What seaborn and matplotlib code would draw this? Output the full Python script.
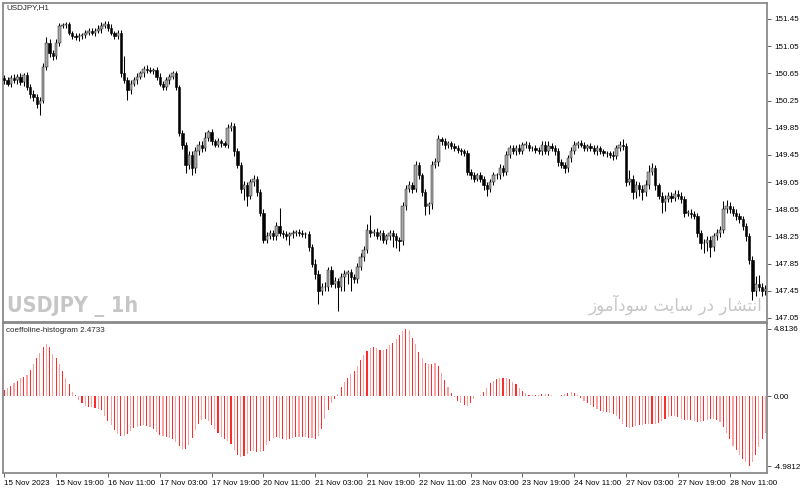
"""USDJPY H1 candles with the coeffoline-histogram sub-window (MT4 style)."""

import matplotlib
import numpy as np
import pandas as pd

matplotlib.use("Agg")
import matplotlib.pyplot as plt  # noqa: E402
import seaborn as sns  # noqa: E402

SYMBOL = "USDJPY,H1"
IND_NAME = "coeffoline-histogram 2.4733"
WATERMARK = "USDJPY _ 1h"
# "انتشار در سایت سودآموز" as Arabic presentation forms (logical order);
# matplotlib has no shaping, so the joined forms are given directly
CREDIT = ("\uFE8D\uFEE7\uFE98\uFEB8\uFE8E\uFEAD \uFEA9\uFEAD "
          "\uFEB3\uFE8E\uFBFE\uFE96 \uFEB3\uFEEE\uFEA9\uFE81\uFEE3\uFEEE\uFEAF")

opens = [
    150.58, 150.55, 150.50, 150.58, 150.55, 150.60, 150.52, 150.62, 150.45, 150.35,
    150.30, 150.20, 150.25, 150.75, 151.10, 150.95, 150.90, 151.10, 151.35, 151.36,
    151.37, 151.25, 151.20, 151.18, 151.20, 151.22, 151.25, 151.27, 151.25, 151.28,
    151.30, 151.35, 151.38, 151.32, 151.25, 151.20, 151.25, 150.65, 150.55, 150.40,
    150.50, 150.55, 150.60, 150.65, 150.72, 150.70, 150.68, 150.70, 150.60, 150.50,
    150.45, 150.55, 150.60, 150.65, 150.45, 149.77, 149.60, 149.30, 149.45, 149.25,
    149.50, 149.60, 149.55, 149.70, 149.78, 149.65, 149.60, 149.65, 149.62, 149.60,
    149.85, 149.88, 149.50, 149.30, 148.95, 149.00, 148.85, 149.05, 149.10, 148.90,
    148.60, 148.20, 148.25, 148.30, 148.25, 148.40, 148.30, 148.28, 148.25, 148.28,
    148.30, 148.32, 148.30, 148.28, 148.28, 148.10, 147.85, 147.70, 147.45, 147.50,
    147.50, 147.75, 147.55, 147.60, 147.50, 147.65, 147.70, 147.72, 147.65, 147.62,
    147.80, 147.95, 148.05, 148.35, 148.30, 148.32, 148.25, 148.30, 148.20, 148.25,
    148.30, 148.25, 148.20, 148.18, 148.70, 148.95, 149.00, 148.95, 149.30, 149.15,
    148.90, 148.70, 148.72, 149.30, 149.35, 149.68, 149.65, 149.60, 149.62, 149.58,
    149.55, 149.52, 149.50, 149.47, 149.20, 149.15, 149.10, 149.15, 149.10, 149.00,
    148.95, 149.05, 149.15, 149.15, 149.25, 149.20, 149.45, 149.55, 149.50, 149.55,
    149.50, 149.60, 149.60, 149.55, 149.55, 149.52, 149.50, 149.60, 149.50, 149.58,
    149.55, 149.50, 149.35, 149.30, 149.25, 149.40, 149.50, 149.60, 149.62, 149.60,
    149.55, 149.58, 149.55, 149.50, 149.55, 149.50, 149.48, 149.47, 149.45, 149.43,
    149.55, 149.60, 149.58, 149.05, 149.10, 148.90, 149.00, 148.95, 148.90, 149.00,
    149.20, 149.25, 149.00, 148.85, 148.75, 148.80, 148.85, 148.82, 148.88, 148.85,
    148.80, 148.60, 148.60, 148.58, 148.55, 148.30, 148.15, 148.15, 148.20, 148.10,
    148.25, 148.30, 148.35, 148.65, 148.70, 148.65, 148.60, 148.55, 148.50, 148.40,
    148.25, 147.90, 147.45, 147.55, 147.50, 147.45,
]
closes = [
    150.55, 150.50, 150.58, 150.55, 150.60, 150.52, 150.62, 150.45, 150.35, 150.30,
    150.20, 150.25, 150.75, 151.10, 150.95, 150.90, 151.10, 151.35, 151.36, 151.37,
    151.25, 151.20, 151.18, 151.20, 151.22, 151.25, 151.27, 151.25, 151.28, 151.30,
    151.35, 151.38, 151.32, 151.25, 151.20, 151.25, 150.65, 150.55, 150.40, 150.50,
    150.55, 150.60, 150.65, 150.72, 150.70, 150.68, 150.70, 150.60, 150.50, 150.45,
    150.55, 150.60, 150.65, 150.45, 149.77, 149.60, 149.30, 149.45, 149.25, 149.50,
    149.60, 149.55, 149.70, 149.78, 149.65, 149.60, 149.65, 149.62, 149.60, 149.85,
    149.88, 149.50, 149.30, 148.95, 149.00, 148.85, 149.05, 149.10, 148.90, 148.60,
    148.20, 148.25, 148.30, 148.25, 148.40, 148.30, 148.28, 148.25, 148.28, 148.30,
    148.32, 148.30, 148.28, 148.28, 148.10, 147.85, 147.70, 147.45, 147.50, 147.50,
    147.75, 147.55, 147.60, 147.50, 147.65, 147.70, 147.72, 147.65, 147.62, 147.80,
    147.95, 148.05, 148.35, 148.30, 148.32, 148.25, 148.30, 148.20, 148.25, 148.30,
    148.25, 148.20, 148.18, 148.70, 148.95, 149.00, 148.95, 149.30, 149.15, 148.90,
    148.70, 148.72, 149.30, 149.35, 149.68, 149.65, 149.60, 149.62, 149.58, 149.55,
    149.52, 149.50, 149.47, 149.20, 149.15, 149.10, 149.15, 149.10, 149.00, 148.95,
    149.05, 149.15, 149.15, 149.25, 149.20, 149.45, 149.55, 149.50, 149.55, 149.50,
    149.60, 149.60, 149.55, 149.55, 149.52, 149.50, 149.60, 149.50, 149.58, 149.55,
    149.50, 149.35, 149.30, 149.25, 149.40, 149.50, 149.60, 149.62, 149.60, 149.55,
    149.58, 149.55, 149.50, 149.55, 149.50, 149.48, 149.47, 149.45, 149.43, 149.55,
    149.60, 149.58, 149.05, 149.10, 148.90, 149.00, 148.95, 148.90, 149.00, 149.20,
    149.25, 149.00, 148.85, 148.75, 148.80, 148.85, 148.82, 148.88, 148.85, 148.80,
    148.60, 148.60, 148.58, 148.55, 148.30, 148.15, 148.15, 148.20, 148.10, 148.25,
    148.30, 148.35, 148.65, 148.70, 148.65, 148.60, 148.55, 148.50, 148.40, 148.25,
    147.90, 147.45, 147.55, 147.50, 147.45, 147.48,
]
# wick lengths above the body top / below the body bottom
wick_up = [
    .05, .04, .04, .06, .04, .05, .04, .05, .04, .05, .04, .05, .05, .08, .05, .04, .05, .04, .03, .04,
    .04, .03, .05, .04, .03, .04, .05, .04, .04, .06, .05, .04, .04, .05, .03, .04, .04, .25, .04, .05,
    .04, .05, .04, .04, .05, .04, .03, .04, .05, .04, .05, .04, .03, .04, .03, .05, .04, .06, .05, .06,
    .05, .06, .08, .04, .05, .04, .05, .03, .04, .06, .05, .04, .05, .04, .06, .05, .05, .06, .04, .05,
    .05, .06, .05, .04, .06, .27, .04, .05, .04, .04, .03, .04, .05, .04, .05, .04, .06, .05, .06, .08,
    .05, .06, .05, .04, .06, .05, .04, .05, .04, .06, .05, .06, .08, .22, .04, .05, .04, .05, .04, .05,
    .04, .05, .04, .06, .05, .06, .05, .06, .05, .04, .05, .04, .06, .05, .06, .04, .05, .03, .04, .05,
    .04, .03, .04, .05, .04, .05, .04, .05, .04, .05, .04, .05, .04, .06, .05, .05, .04, .05, .04, .06,
    .04, .05, .04, .03, .04, .05, .06, .05, .08, .04, .04, .05, .04, .05, .05, .06, .05, .04, .05, .04,
    .03, .04, .05, .04, .03, .04, .03, .04, .05, .04, .06, .08, .05, .12, .05, .06, .05, .06, .08, .10,
    .08, .05, .04, .05, .06, .05, .05, .06, .05, .05, .05, .04, .05, .04, .05, .05, .06, .05, .06, .05,
    .06, .06, .12, .09, .05, .05, .06, .04, .05, .04, .05, .06, .12, .13, .06, .05,
]
wick_dn = [
    .05, .04, .05, .04, .05, .04, .06, .05, .06, .05, .06, .16, .04, .05, .06, .05, .04, .05, .04, .05,
    .04, .05, .04, .06, .04, .05, .04, .04, .05, .04, .05, .04, .05, .04, .05, .04, .05, .04, .14, .05,
    .04, .05, .04, .05, .04, .03, .04, .05, .04, .05, .04, .05, .04, .05, .04, .06, .12, .06, .10, .06,
    .05, .06, .05, .04, .05, .04, .04, .05, .04, .05, .05, .06, .05, .06, .17, .15, .05, .06, .05, .05,
    .05, .05, .04, .05, .06, .05, .05, .06, .12, .05, .04, .05, .04, .05, .06, .05, .08, .20, .06, .05,
    .06, .05, .06, .35, .05, .20, .15, .20, .06, .05, .05, .06, .05, .06, .05, .04, .06, .05, .06, .05,
    .15, .12, .15, .05, .06, .05, .06, .05, .06, .06, .13, .12, .06, .05, .06, .05, .06, .05, .04, .05,
    .04, .05, .04, .05, .06, .05, .04, .05, .06, .10, .05, .04, .06, .05, .06, .05, .05, .04, .05, .04,
    .04, .05, .04, .04, .05, .04, .05, .04, .05, .04, .05, .06, .05, .06, .05, .06, .04, .05, .04, .05,
    .04, .05, .04, .05, .04, .04, .05, .04, .05, .04, .05, .06, .06, .05, .10, .08, .10, .12, .06, .05,
    .05, .06, .05, .15, .12, .05, .06, .05, .05, .06, .06, .05, .06, .05, .06, .08, .15, .12, .15, .06,
    .05, .06, .05, .05, .06, .05, .06, .05, .06, .07, .06, .13, .08, .06, .08, .06,
]
hist = [
    0.47, 0.63, 0.75, 0.92, 1.10, 1.30, 1.40, 1.55, 1.90, 2.30,
    2.72, 3.10, 3.50, 3.73, 3.50, 3.05, 2.72, 2.30, 1.80, 1.33,
    0.87, 0.33, 0.08, -0.25, -0.50, -0.67, -0.75, -0.77, -0.83, -0.88,
    -1.00, -1.40, -1.77, -2.05, -2.38, -2.70, -2.85, -2.84, -2.66, -2.45,
    -2.25, -2.16, -2.10, -2.08, -2.13, -2.20, -2.30, -2.53, -2.74, -2.83,
    -2.90, -2.96, -3.06, -3.29, -3.52, -3.75, -3.78, -3.45, -2.95, -2.39,
    -1.95, -1.69, -1.64, -1.78, -2.03, -2.33, -2.65, -2.90, -3.02, -3.16,
    -3.43, -3.83, -4.18, -4.33, -4.30, -4.09, -3.93, -3.91, -3.95, -3.99,
    -3.90, -3.51, -3.19, -2.98, -2.90, -2.97, -3.06, -3.12, -3.05, -3.00,
    -2.90, -2.89, -2.89, -2.89, -2.95, -2.99, -3.04, -2.87, -2.34, -1.59,
    -0.95, -0.50, -0.18, 0.20, 0.69, 1.03, 1.28, 1.58, 1.84, 2.15,
    2.57, 2.96, 3.23, 3.43, 3.52, 3.43, 3.31, 3.29, 3.40, 3.64,
    3.84, 4.08, 4.35, 4.70, 4.81, 4.72, 4.15, 3.74, 3.19, 2.72,
    2.35, 2.28, 2.33, 2.35, 2.14, 1.69, 1.15, 0.66, 0.23, -0.08,
    -0.31, -0.51, -0.65, -0.67, -0.49, -0.22, -0.01, 0.10, 0.31, 0.61,
    0.92, 1.12, 1.23, 1.30, 1.34, 1.30, 1.21, 1.05, 0.87, 0.60,
    0.36, 0.24, 0.13, 0.06, 0.08, 0.13, 0.14, 0.14, 0.14, 0.07,
    0.05, 0.05, 0.08, 0.17, 0.26, 0.28, 0.22, 0.08, -0.09, -0.30,
    -0.50, -0.64, -0.75, -0.90, -1.03, -1.09, -1.14, -1.18, -1.27, -1.44,
    -1.64, -1.96, -2.19, -2.29, -2.18, -2.11, -2.07, -2.02, -1.98, -1.95,
    -1.95, -1.95, -1.90, -1.76, -1.62, -1.51, -1.43, -1.41, -1.50, -1.62,
    -1.70, -1.71, -1.71, -1.75, -1.80, -1.81, -1.75, -1.69, -1.63, -1.61,
    -1.66, -1.80, -2.20, -2.63, -3.07, -3.52, -3.87, -4.20, -4.45, -4.70,
    -4.98, -4.70, -4.20, -3.60, -3.05, -2.60,
]
price_ticks = [147.05, 147.45, 147.85, 148.25, 148.65, 149.05,
               149.45, 149.85, 150.25, 150.65, 151.05, 151.45]
ind_ticks = [4.8136, 0.0, -4.9812]
ind_tick_labels = ["4.8136", "0.00", "-4.9812"]
date_ticks = [0, 16, 32, 48, 64, 80, 96, 112, 128, 144, 160, 176, 192, 208, 224]
date_labels = ["15 Nov 2023", "15 Nov 19:00", "16 Nov 11:00", "17 Nov 03:00",
               "17 Nov 19:00", "20 Nov 11:00", "21 Nov 03:00", "21 Nov 19:00",
               "22 Nov 11:00", "23 Nov 03:00", "23 Nov 19:00", "24 Nov 11:00",
               "27 Nov 03:00", "27 Nov 19:00", "28 Nov 11:00"]

FRAME = "#8a8a8a"
TICK_FS = 5.8

sns.set_theme(style="white")
plt.rcParams["font.family"] = ["Liberation Sans", "DejaVu Sans"]

fig = plt.figure(figsize=(8, 4.9), dpi=100)
W, H = 800, 490
ax = fig.add_axes([3 / W, (H - 322) / H, 764 / W, 319 / H])
ax2 = fig.add_axes([3 / W, (H - 473) / H, 764 / W, 150 / H])

# --- candles
x = np.arange(len(closes))
o = np.array(opens)
c = np.array(closes)
top = np.maximum(o, c)
bot = np.minimum(o, c)
ax.vlines(x, bot - np.array(wick_dn), top + np.array(wick_up), color="black", lw=0.75)
body = np.maximum(top - bot, 0.006)
bull = c >= o
ax.bar(x[bull], body[bull], bottom=bot[bull], width=0.8,
       color="#a8a8a8", edgecolor="#202020", linewidth=0.35, zorder=3)
ax.bar(x[~bull], body[~bull], bottom=bot[~bull], width=0.72,
       color="black", edgecolor="black", linewidth=0.4, zorder=3)

ax.set_xlim(-0.4, 235.5)
ax.set_ylim(146.99, 151.685)
ax.set_xticks([])
ax.yaxis.tick_right()
ax.set_yticks(price_ticks)
ax.set_yticklabels([f"{v:.2f}" for v in price_ticks])

# --- histogram sub-window
df = pd.DataFrame({"bar": x, "value": hist,
                   "shade": np.where(x % 2 == 0, "a", "b")})
sns.barplot(data=df, x="bar", y="value", hue="shade",
            palette={"a": "#ff2a2a", "b": "#ffa0a0"}, native_scale=True,
            width=0.34, dodge=False, legend=False, errorbar=None,
            saturation=1, linewidth=0, ax=ax2)
ax2.set_xlim(-0.4, 235.5)
ax2.set_ylim(-5.48, 5.24)
ax2.yaxis.tick_right()
ax2.set_yticks(ind_ticks)
ax2.set_yticklabels(ind_tick_labels)
ax2.set_xticks(date_ticks)
ax2.set_xticklabels(date_labels, ha="left")
ax2.set_xlabel("")
ax2.set_ylabel("")

for a in (ax, ax2):
    for sp in a.spines.values():
        sp.set_color(FRAME)
        sp.set_linewidth(1.3)
    a.tick_params(axis="both", which="both", direction="out", length=3,
                  width=0.6, color="#444444", labelsize=TICK_FS,
                  labelcolor="black", pad=2, bottom=True, right=True)
ax.tick_params(axis="x", bottom=False)

# --- texts
fig.text(6 / W, 1 - 8 / H, SYMBOL, fontsize=TICK_FS, va="center", ha="left")
fig.text(6 / W, 1 - 331 / H, IND_NAME, fontsize=TICK_FS, va="center", ha="left")
fig.text(7 / W, 1 - 306 / H, WATERMARK, fontsize=15.5, fontweight="bold",
         fontstretch="condensed", color="#c6c6c6", va="center", ha="left",
         family=["DejaVu Sans"])
fig.text(676 / W, 1 - 305 / H, CREDIT[::-1], fontsize=12, color="#c6c6c6",
         va="center", ha="center", family=["DejaVu Sans"])

fig.savefig("out.png", dpi=100)
